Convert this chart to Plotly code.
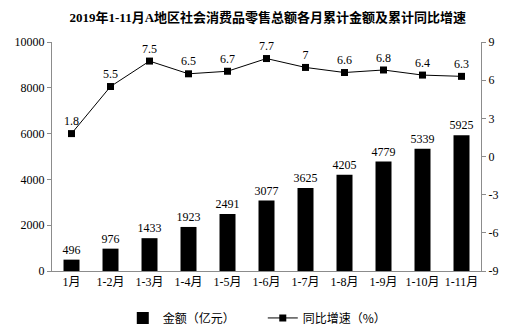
import plotly.graph_objects as go

months = ["1月", "1-2月", "1-3月", "1-4月", "1-5月", "1-6月", "1-7月", "1-8月", "1-9月", "1-10月", "1-11月"]
amount = [496, 976, 1433, 1923, 2491, 3077, 3625, 4205, 4779, 5339, 5925]
growth = [1.8, 5.5, 7.5, 6.5, 6.7, 7.7, 7, 6.6, 6.8, 6.4, 6.3]
left_ticks = [0, 2000, 4000, 6000, 8000, 10000]
right_ticks = [-9, -6, -3, 0, 3, 6, 9]

serif = "Times New Roman, Liberation Serif, Noto Sans CJK SC, serif"
label_font = dict(family=serif, size=12, color="black")

fig = go.Figure()
fig.add_trace(go.Bar(
    x=months, y=amount, name="金额（亿元）",
    marker=dict(color="black", line=dict(width=0)),
    text=[str(v) for v in amount], textposition="outside",
    textangle=0, constraintext="none",
    textfont=label_font, outsidetextfont=label_font,
    cliponaxis=False,
))
fig.add_trace(go.Scatter(
    x=months, y=growth, name="同比增速（%）", yaxis="y2",
    mode="lines+markers+text",
    line=dict(color="black", width=1),
    marker=dict(symbol="square", size=7, color="black"),
    text=[("%g" % v) for v in growth], textposition="top center",
    textfont=label_font,
    cliponaxis=False,
))

fig.update_layout(
    width=515, height=332,
    margin=dict(l=52, r=34, t=42, b=61, autoexpand=False),
    paper_bgcolor="white", plot_bgcolor="white",
    bargap=0.59,
    title=dict(text="<b>2019年1-11月A地区社会消费品零售总额各月累计金额及累计同比增速</b>",
               x=0.52, xanchor="center", y=0.948, yanchor="middle",
               font=dict(family=serif, size=13, color="black")),
    xaxis=dict(range=[-0.5, len(months) - 0.5], showline=True, linecolor="#8c8c8c",
               linewidth=1, ticks="", tickfont=label_font, showgrid=False),
    yaxis=dict(range=[0, 10000], tickvals=left_ticks, ticktext=[str(v) for v in left_ticks],
               showline=True, linecolor="#8c8c8c",
               ticks="outside", ticklen=4, tickcolor="#8c8c8c", showgrid=False, zeroline=False,
               tickfont=label_font),
    yaxis2=dict(range=[-9, 9], tickvals=right_ticks, ticktext=[str(v) for v in right_ticks],
                overlaying="y", side="right", showline=True,
                linecolor="#8c8c8c", ticks="outside", ticklen=4, tickcolor="#8c8c8c",
                showgrid=False, zeroline=False, tickfont=label_font),
    legend=dict(orientation="h", x=0.165, xanchor="left", y=-0.205, yanchor="middle",
                entrywidth=95, entrywidthmode="pixels",
                font=dict(family="Noto Sans CJK SC, sans-serif", size=12, color="black")),
    showlegend=True,
)

fig.write_html("out.html")
